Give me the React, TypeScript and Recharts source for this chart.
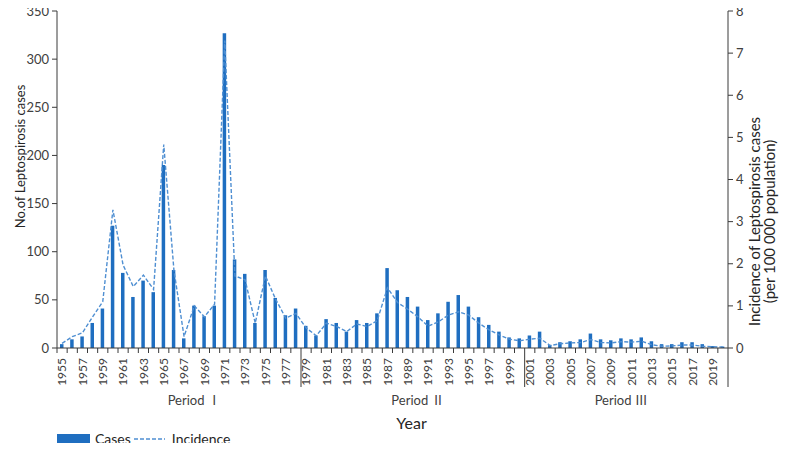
import { ComposedChart, Bar, Line, XAxis, YAxis, Legend } from 'recharts';

const years = [
  '1955', '1956', '1957', '1958', '1959', '1960', '1961', '1962', '1963', '1964',
  '1965', '1966', '1967', '1968', '1969', '1970', '1971', '1972', '1973', '1974',
  '1975', '1976', '1977', '1978', '1979', '1980', '1981', '1982', '1983', '1984',
  '1985', '1986', '1987', '1988', '1989', '1990', '1991', '1992', '1993', '1994',
  '1995', '1996', '1997', '1998', '1999', '2000', '2001', '2002', '2003', '2004',
  '2005', '2006', '2007', '2008', '2009', '2010', '2011', '2012', '2013', '2014',
  '2015', '2016', '2017', '2018', '2019', '2020',
];

const cases = [
  4, 9, 12, 26, 41, 127, 78, 53, 70, 58,
  190, 81, 10, 44, 33, 44, 327, 92, 77, 26,
  81, 52, 34, 41, 23, 13, 30, 26, 17, 29,
  26, 36, 83, 60, 53, 43, 29, 36, 48, 55,
  43, 32, 24, 17, 11, 10, 13, 17, 3, 6,
  7, 9, 15, 9, 8, 10, 9, 11, 7, 4,
  4, 6, 6, 4, 2, 1.5,
];

const incidence = [
  0.11, 0.27, 0.36, 0.74, 1.1, 3.28, 1.97, 1.46, 1.73, 1.39,
  4.83, 1.85, 0.27, 1.0, 0.74, 1.04, 7.3, 1.71, 1.62, 0.59,
  1.71, 1.16, 0.71, 0.82, 0.48, 0.29, 0.59, 0.51, 0.39, 0.57,
  0.51, 0.65, 1.43, 1.08, 0.92, 0.74, 0.52, 0.62, 0.78, 0.86,
  0.78, 0.59, 0.43, 0.31, 0.21, 0.17, 0.21, 0.23, 0.06, 0.1,
  0.12, 0.13, 0.2, 0.13, 0.12, 0.15, 0.14, 0.16, 0.08, 0.04,
  0.05, 0.07, 0.07, 0.04, 0.03, 0.02,
];

const leftTicks = [0, 50, 100, 150, 200, 250, 300, 350];
const rightTicks = [0, 1, 2, 3, 4, 5, 6, 7, 8];

// last year of each period gets a long divider below the axis
const periodBreaks = ['1978', '2000', '2020'];
const periodLabels: Record<string, string> = {
  '1968': 'Period Ⅰ',
  '1990': 'Period Ⅱ',
  '2010': 'Period Ⅲ',
};

const data = years.map((year, i) => ({ year, cases: cases[i], incidence: incidence[i] }));

const FONT = "Lato, 'Noto Sans CJK SC', sans-serif";
const AXIS = '#3a3a3a';
const TEXT = '#404040';
const BAR = '#1f6ec0';
const LINE = '#4f8fd2';

function YearTick(props: any) {
  const { x, y, payload, index } = props;
  const half = payload.offset || 5.08;
  const year = String(payload.value);
  const label = periodLabels[year];
  const long = periodBreaks.includes(year);
  return (
    <g>
      {index === 0 && <line x1={x - half} x2={x - half} y1={y} y2={y + 5} stroke={AXIS} />}
      <line x1={x + half} x2={x + half} y1={y} y2={y + (long ? 39 : 5)} stroke={AXIS} />
      {index % 2 === 0 && (
        <text
          x={x}
          y={y + 10}
          dy="0.35em"
          transform={`rotate(-90 ${x} ${y + 10})`}
          textAnchor="end"
          fontSize={12}
          fontFamily={FONT}
          fill={TEXT}
        >
          {year}
        </text>
      )}
      {label && (
        <text x={x} y={y + 57} textAnchor="middle" fontSize={13} fontFamily={FONT} fill={TEXT}>
          {label}
        </text>
      )}
    </g>
  );
}

function LeftTitle(props: any) {
  const { viewBox } = props;
  const cx = viewBox.x + 20;
  const cy = viewBox.y + viewBox.height / 2 - 23;
  return (
    <text
      transform={`translate(${cx},${cy}) rotate(-90)`}
      textAnchor="middle"
      dominantBaseline="central"
      fontSize={13}
      fontFamily={FONT}
      fill="#262626"
    >
      No.of Leptospirosis cases
    </text>
  );
}

function RightTitle(props: any) {
  const { viewBox } = props;
  const cy = viewBox.y + viewBox.height / 2 + 42;
  return (
    <g fontSize={15} fontFamily={FONT} fill="#262626" textAnchor="middle">
      <text transform={`translate(${viewBox.x + 26},${cy}) rotate(-90)`} dominantBaseline="central">
        Incidence of Leptospirosis cases
      </text>
      <text transform={`translate(${viewBox.x + 41},${cy}) rotate(-90)`} dominantBaseline="central">
        (per 100 000  population)
      </text>
    </g>
  );
}

function YearTitle(props: any) {
  const { viewBox } = props;
  return (
    <text
      x={viewBox.x + viewBox.width / 2 + 19}
      y={viewBox.y + 81}
      textAnchor="middle"
      fontSize={16}
      fontFamily={FONT}
      fill="#262626"
    >
      Year
    </text>
  );
}

function LegendContent() {
  return (
    <div style={{ display: 'flex', alignItems: 'center', fontFamily: FONT, fontSize: 14, color: '#262626' }}>
      <span style={{ display: 'inline-block', width: 33, height: 9, background: BAR, marginRight: 5 }} />
      <span>Cases</span>
      <svg width={31} height={10} style={{ margin: '0 7px 0 3px' }}>
        <line x1={0} x2={31} y1={5} y2={5} stroke={LINE} strokeWidth={1.3} strokeDasharray="4 2" />
      </svg>
      <span>Incidence</span>
    </div>
  );
}

export default function App() {
  return (
    <div style={{ margin: -8, width: 787, height: 451, background: '#fff' }}>
      <ComposedChart
        width={787}
        height={451}
        data={data}
        margin={{ top: 11, right: 0, bottom: 0, left: 0 }}
      >
        <XAxis
          dataKey="year"
          interval={0}
          height={103}
          tickSize={0}
          tickMargin={0}
          tickLine={false}
          axisLine={{ stroke: AXIS }}
          tick={(p: any) => <YearTick {...p} />}
          label={<YearTitle />}
        />
        <YAxis
          yAxisId="left"
          width={57}
          domain={[0, 350]}
          ticks={leftTicks}
          tickSize={5}
          tickMargin={3}
          axisLine={{ stroke: AXIS }}
          tickLine={{ stroke: AXIS }}
          tick={{ fill: TEXT, fontSize: 13, fontFamily: FONT }}
          label={<LeftTitle />}
        />
        <YAxis
          yAxisId="right"
          orientation="right"
          width={59}
          domain={[0, 8]}
          ticks={rightTicks}
          tickSize={5}
          tickMargin={3}
          axisLine={{ stroke: AXIS }}
          tickLine={{ stroke: AXIS }}
          tick={{ fill: TEXT, fontSize: 13, fontFamily: FONT }}
          label={<RightTitle />}
        />
        <Legend
          layout="horizontal"
          verticalAlign="middle"
          align="center"
          wrapperStyle={{ top: 430, left: 57, width: 220, height: 18 }}
          content={<LegendContent />}
        />
        <Bar
          yAxisId="left"
          dataKey="cases"
          name="Cases"
          fill={BAR}
          barSize={3.5}
          isAnimationActive={false}
        />
        <Line
          yAxisId="right"
          type="linear"
          dataKey="incidence"
          name="Incidence"
          stroke={LINE}
          strokeWidth={1.4}
          strokeDasharray="4 2"
          dot={false}
          activeDot={false}
          isAnimationActive={false}
        />
      </ComposedChart>
    </div>
  );
}
